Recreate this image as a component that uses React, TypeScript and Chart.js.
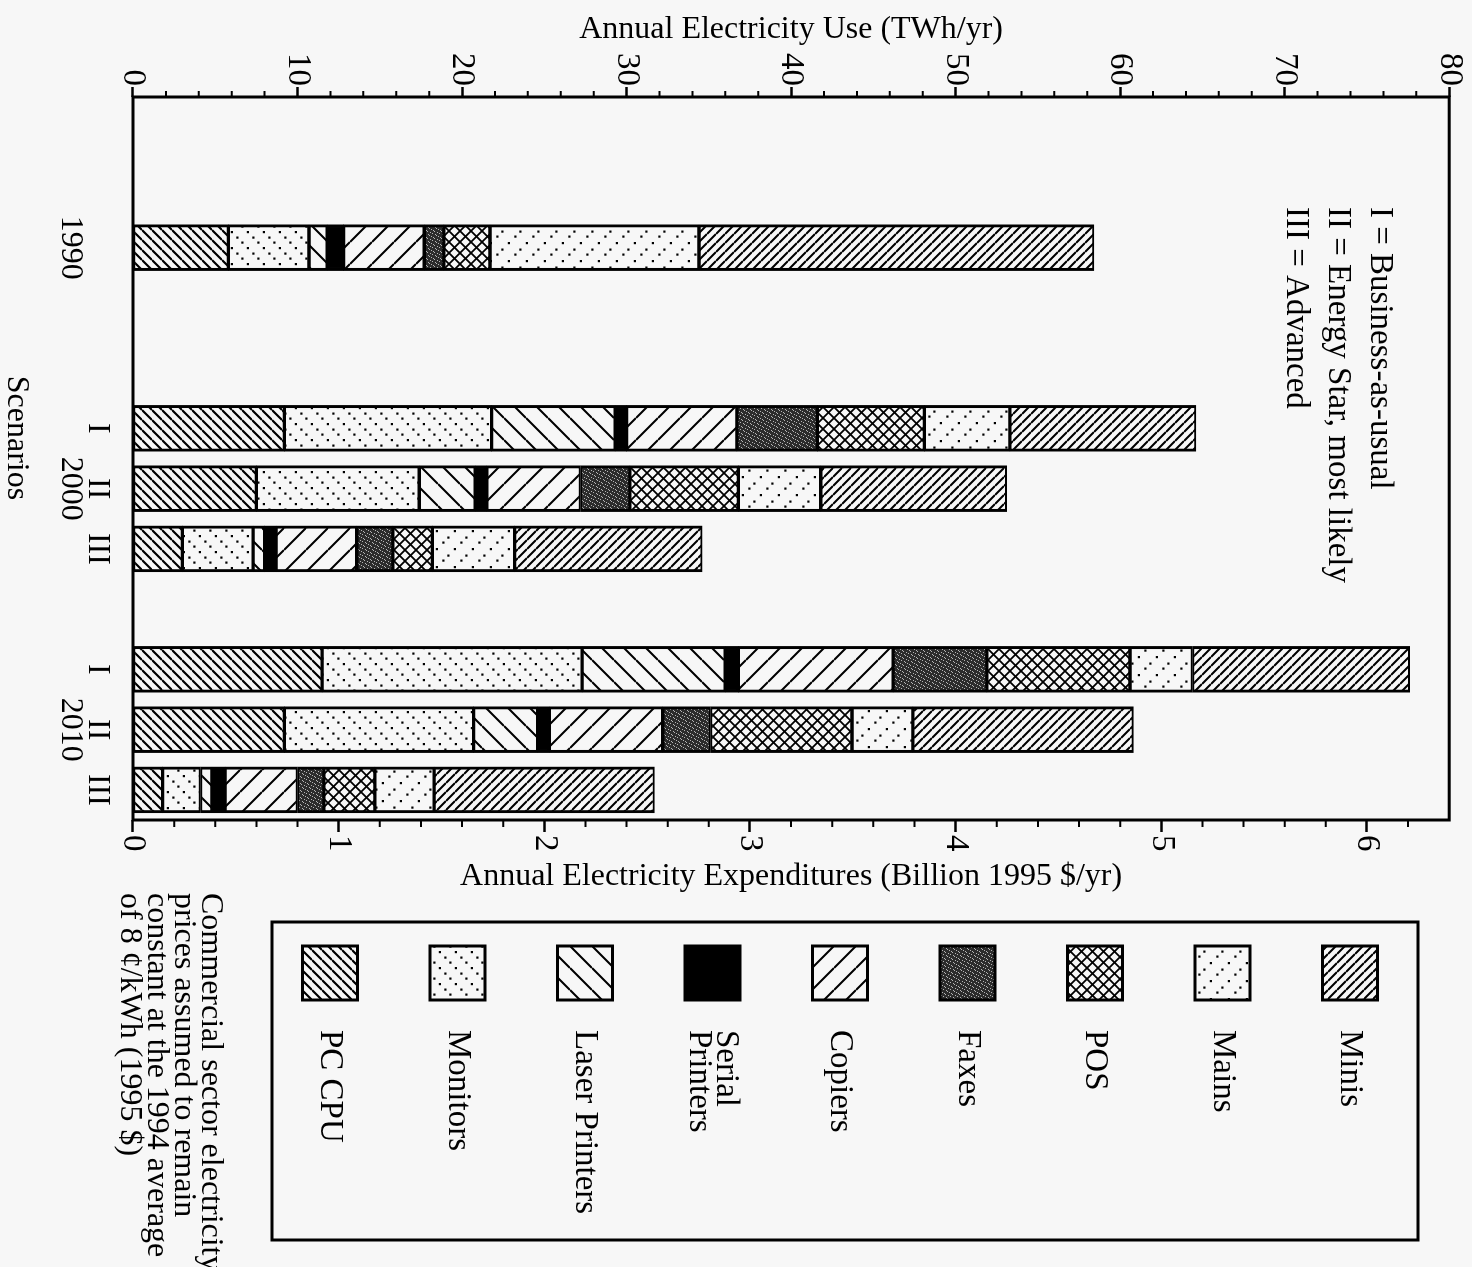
import React, { useEffect, useRef } from 'react';
import { Chart, registerables } from 'chart.js';

Chart.register(...registerables);

// ---------- data (TWh/yr) ----------
const categories: (string | string[])[] = ['', '', ['', '1990'], '', '', 'I', ['II', '2000'], 'III', '', 'I', ['II', '2010'], 'III'];
const seriesNames = ['PC CPU', 'Monitors', 'Laser Printers', 'Serial\nPrinters', 'Copiers', 'Faxes', 'POS', 'Mains', 'Minis'];
const pcCpu = [null, null, 5.8, null, null, 9.2, 7.5, 3.0, null, 11.5, 9.2, 1.8];
const monitors = [null, null, 4.9, null, null, 12.6, 9.9, 4.3, null, 15.8, 11.5, 2.3];
const laserPrinters = [null, null, 1.1, null, null, 7.5, 3.4, 0.7, null, 8.7, 3.9, 0.7];
const serialPrinters = [null, null, 1.0, null, null, 0.7, 0.7, 0.7, null, 0.8, 0.7, 0.8];
const copiers = [null, null, 4.9, null, null, 6.7, 5.7, 4.9, null, 9.4, 6.9, 4.4];
const faxes = [null, null, 1.2, null, null, 4.9, 3.0, 2.2, null, 5.7, 2.9, 1.6];
const pos = [null, null, 2.8, null, null, 6.5, 6.6, 2.4, null, 8.7, 8.6, 3.1];
const mains = [null, null, 12.7, null, null, 5.2, 5.0, 5.0, null, 3.8, 3.7, 3.6];
const minis = [null, null, 24.0, null, null, 11.3, 11.3, 11.4, null, 13.2, 13.4, 13.4];
const seriesValues = [pcCpu, monitors, laserPrinters, serialPrinters, copiers, faxes, pos, mains, minis];

const useTicks = [0, 10, 20, 30, 40, 50, 60, 70, 80];
const costTicks = [0, 1, 2, 3, 4, 5, 6];
const scenarioNotes = ['I = Business-as-usual', 'II = Energy Star, most likely', 'III = Advanced'];
const priceNote = ['Commercial sector electricity', 'prices assumed to remain', 'constant at the 1994 average', 'of 8 \u00A2/kWh (1995 $)'];

// ---------- styling ----------
const BG = '#f7f7f7';
const FONT = '"Liberation Serif", "Times New Roman", Times, serif';
const FS = 32;
const W = 1267; // unrotated canvas width
const H = 1472; // unrotated canvas height

type Drawer = (g: CanvasRenderingContext2D, s: number) => void;

function tile(ctx: CanvasRenderingContext2D, size: number, draw: Drawer): CanvasPattern {
  const c = document.createElement('canvas');
  c.width = size;
  c.height = size;
  const g = c.getContext('2d')!;
  g.fillStyle = BG;
  g.fillRect(0, 0, size, size);
  g.strokeStyle = '#000';
  g.fillStyle = '#000';
  draw(g, size);
  return ctx.createPattern(c, 'repeat')!;
}

// "/" in the unrotated canvas (shows as "\" after rotation)
const fwd = (lw: number): Drawer => (g, s) => {
  g.lineWidth = lw;
  g.beginPath();
  for (const k of [-1, 0, 1]) {
    g.moveTo(k * s, s);
    g.lineTo(k * s + s, 0);
  }
  g.stroke();
};
// "\" in the unrotated canvas (shows as "/" after rotation)
const back = (lw: number): Drawer => (g, s) => {
  g.lineWidth = lw;
  g.beginPath();
  for (const k of [-1, 0, 1]) {
    g.moveTo(k * s, 0);
    g.lineTo(k * s + s, s);
  }
  g.stroke();
};

function makePatterns(ctx: CanvasRenderingContext2D): (CanvasPattern | string)[] {
  const pcCpuP = tile(ctx, 10, fwd(2.2));
  const monitorsP = tile(ctx, 16, (g) => {
    g.fillRect(1.5, 12.5, 2.2, 2.2);
    g.fillRect(7, 7, 2.2, 2.2);
    g.fillRect(12.5, 1.5, 2.2, 2.2);
  });
  const laserP = tile(ctx, 22, fwd(2));
  const serialP = '#000';
  const copiersP = tile(ctx, 22, back(2));
  const faxesP = tile(ctx, 7, (g) => {
    g.fillStyle = '#2c2c2c';
    g.fillRect(0, 0, 7, 7);
    g.fillStyle = '#b4b4b4';
    [[0, 1], [3, 0], [5, 4], [1, 5], [6, 2], [2, 3], [4, 6]].forEach(([x, y]) => g.fillRect(x, y, 1, 1));
  });
  const posP = tile(ctx, 11, (g, s) => {
    fwd(1.8)(g, s);
    back(1.8)(g, s);
  });
  const mainsP = tile(ctx, 18, (g) => {
    g.fillRect(1.5, 1.5, 2.2, 2.2);
    g.fillRect(8, 8, 2.2, 2.2);
    g.fillRect(14.5, 14.5, 2.2, 2.2);
  });
  const minisP = tile(ctx, 9, back(2));
  return [pcCpuP, monitorsP, laserP, serialP, copiersP, faxesP, posP, mainsP, minisP];
}

const decorPlugin = {
  id: 'decor',
  afterDraw(chart: any) {
    const { ctx, chartArea } = chart;
    const yS = chart.scales.y;
    const y2S = chart.scales.y2;
    const patterns: (CanvasPattern | string)[] = chart.options.plugins.decor.patterns;
    ctx.save();
    // frame
    ctx.strokeStyle = '#000';
    ctx.lineWidth = 3;
    ctx.strokeRect(chartArea.left, chartArea.top, chartArea.right - chartArea.left, chartArea.bottom - chartArea.top);
    // minor ticks
    ctx.lineWidth = 2;
    ctx.beginPath();
    for (let v = 2; v < 80; v += 2) {
      if (v % 10 === 0) continue;
      const p = yS.getPixelForValue(v);
      ctx.moveTo(chartArea.left, p);
      ctx.lineTo(chartArea.left - 6, p);
    }
    for (let i = 1; i < 32; i++) {
      if (i % 5 === 0) continue;
      const p = y2S.getPixelForValue(i * 0.2);
      ctx.moveTo(chartArea.right, p);
      ctx.lineTo(chartArea.right + 7, p);
    }
    ctx.stroke();

    ctx.fillStyle = '#000';
    ctx.font = `${FS}px ${FONT}`;
    // right axis title (reads like the left one)
    ctx.save();
    ctx.translate(chartArea.right + 57, (chartArea.top + chartArea.bottom) / 2);
    ctx.rotate(-Math.PI / 2);
    ctx.textAlign = 'center';
    ctx.textBaseline = 'middle';
    ctx.fillText('Annual Electricity Expenditures (Billion 1995 $/yr)', 0, 0);
    ctx.restore();

    ctx.textAlign = 'center';
    ctx.textBaseline = 'middle';
    ctx.fillText('Scenarios', 438, H - 16);

    // scenario key inside plot
    ctx.font = `33px ${FONT}`;
    ctx.textAlign = 'left';
    scenarioNotes.forEach((t, i) => ctx.fillText(t, 207, 92 + i * 42));

    // legend box
    ctx.lineWidth = 3;
    ctx.strokeRect(922, 54, 318, 1146);
    seriesNames.forEach((name, i) => {
      const cy = 1142 - i * 127.5;
      ctx.fillStyle = patterns[i] as any;
      ctx.fillRect(946, cy - 27.5, 54, 55);
      ctx.lineWidth = 3;
      ctx.strokeRect(946, cy - 27.5, 54, 55);
      ctx.fillStyle = '#000';
      const lines = name.split('\n');
      const pitch = 27;
      lines.forEach((ln, j) => {
        ctx.fillText(ln, 1030, cy + (j - (lines.length - 1) / 2) * pitch);
      });
    });

    // price note
    ctx.font = `${FS}px ${FONT}`;
    priceNote.forEach((t, i) => ctx.fillText(t, 893, 1262 + i * 26.7));
    ctx.restore();
  },
};

export default function App() {
  const ref = useRef<HTMLCanvasElement>(null);
  useEffect(() => {
    const canvas = ref.current!;
    const ctx = canvas.getContext('2d')!;
    const patterns = makePatterns(ctx);
    const font = { family: FONT, size: FS };
    const tickFont = { family: FONT, size: 33 };
    const chart = new Chart(canvas, {
      type: 'bar',
      data: {
        labels: categories as any,
        datasets: seriesValues.map((vals, i) => ({
          label: seriesNames[i],
          data: vals as any,
          backgroundColor: patterns[i] as any,
          borderColor: '#000',
          borderWidth: { left: 3, right: 3, top: 2, bottom: 2 } as any,
          borderSkipped: false as any,
          barThickness: 46,
          xAxisID: 'x',
          yAxisID: 'y',
        })),
      },
      options: {
        responsive: false,
        animation: false,
        devicePixelRatio: 1,
        layout: { padding: { top: 22, left: 0, right: 0, bottom: 0 } },
        plugins: {
          legend: { display: false },
          tooltip: { enabled: false },
          decor: { patterns },
        } as any,
        scales: {
          x: {
            type: 'category',
            stacked: true,
            offset: true,
            grid: { display: false, drawTicks: false },
            border: { display: false },
            ticks: {
              autoSkip: false,
              maxRotation: 0,
              minRotation: 0,
              padding: 22,
              color: '#000',
              font: { family: FONT, size: FS, lineHeight: 0.85 },
            },
            title: { display: false },
            afterFit: (s: any) => { s.height = 133; },
          },
          y: {
            type: 'linear',
            position: 'left',
            stacked: true,
            min: 0,
            max: 80,
            grid: { drawOnChartArea: false, drawTicks: true, tickLength: 10, tickWidth: 2.5, tickColor: '#000' },
            border: { display: false },
            ticks: { padding: 1, autoSkip: false, color: '#000', font: tickFont },
            afterBuildTicks: (s: any) => { s.ticks = useTicks.map((v) => ({ value: v })); },
            title: { display: true, text: 'Annual Electricity Use (TWh/yr)', color: '#000', font, padding: { top: 10, bottom: 0 } },
            afterFit: (s: any) => { s.width = 97; },
          },
          y2: {
            type: 'linear',
            position: 'right',
            min: 0,
            max: 6.4,
            grid: { drawOnChartArea: false, drawTicks: true, tickLength: 12, tickWidth: 2.5, tickColor: '#000' },
            border: { display: false },
            ticks: { padding: 3, autoSkip: false, includeBounds: false, color: '#000', font: tickFont },
            afterBuildTicks: (s: any) => { s.ticks = costTicks.map((v) => ({ value: v })); },
            afterFit: (s: any) => { s.width = W - 820; },
          },
        } as any,
      },
      plugins: [decorPlugin],
    });
    return () => chart.destroy();
  }, []);

  return (
    <div style={{ position: 'fixed', left: 0, top: 0, width: 1472, height: 1267, overflow: 'hidden', background: BG }}>
      <div
        style={{
          position: 'absolute',
          left: 0,
          top: 0,
          width: W,
          height: H,
          transformOrigin: '0 0',
          transform: 'translate(1472px, 0px) rotate(90deg)',
        }}
      >
        <canvas ref={ref} width={W} height={H} style={{ display: 'block', width: W, height: H }} />
      </div>
    </div>
  );
}
